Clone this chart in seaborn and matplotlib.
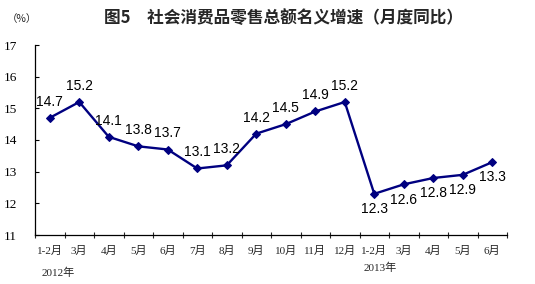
import matplotlib
matplotlib.use("Agg")
import matplotlib.pyplot as plt
import seaborn as sns
import numpy as np
import pandas as pd

months = ["1-2月", "3月", "4月", "5月", "6月", "7月", "8月", "9月", "10月", "11月", "12月",
          "1-2月", "3月", "4月", "5月", "6月"]
growth = [14.7, 15.2, 14.1, 13.8, 13.7, 13.1, 13.2, 14.2, 14.5, 14.9, 15.2,
          12.3, 12.6, 12.8, 12.9, 13.3]
year_labels = ["2012年", "2013年"]
y_ticks = [11, 12, 13, 14, 15, 16, 17]
title = "图5　社会消费品零售总额名义增速（月度同比）"
unit = "（%）"

sns.set_theme(style="ticks")
plt.rcParams["font.family"] = ["Liberation Serif", "Noto Sans CJK SC"]

df = pd.DataFrame({"pos": np.arange(len(growth)), "value": growth})

fig = plt.figure(figsize=(5.35, 2.84), dpi=100)
ax = fig.add_axes([35 / 535, 1 - 235 / 284, (507 - 35) / 535, (235 - 45) / 284])

sns.lineplot(data=df, x="pos", y="value", ax=ax, color="#000080", linewidth=1.7,
             marker="D", markersize=4.5, markeredgecolor="#000080")

ax.set_xlim(-0.5, len(growth) - 0.5)
ax.set_ylim(y_ticks[0], y_ticks[-1])
ax.set_yticks(y_ticks)
ax.set_yticklabels([str(t) for t in y_ticks], fontsize=9.5,
                   family=["Liberation Serif"])
ax.tick_params(axis="y", direction="in", length=3, width=0.8, pad=13, colors="black")

ax.set_xticks(np.arange(len(growth)))
ax.set_xticklabels(months, fontsize=8, family=["Liberation Serif", "Noto Sans CJK SC"])
ax.tick_params(axis="x", which="major", length=0, pad=8)
ax.set_xticks(np.arange(-0.5, len(growth)), minor=True)
ax.tick_params(axis="x", which="minor", direction="inout", length=4, width=0.8)

ax.set_xlabel("")
ax.set_ylabel("")
for s in ["top", "right"]:
    ax.spines[s].set_visible(False)
for s in ["left", "bottom"]:
    ax.spines[s].set_linewidth(0.9)
    ax.spines[s].set_color("black")

for i, v in enumerate(growth):
    if i < 11:
        ax.annotate(f"{v:.1f}", (i, v), xytext=(0, 6.5), textcoords="offset points",
                    ha="center", va="bottom", fontsize=10,
                    family=["Liberation Sans"], color="black")
    else:
        ax.annotate(f"{v:.1f}", (i, v), xytext=(0, -6), textcoords="offset points",
                    ha="center", va="top", fontsize=10,
                    family=["Liberation Sans"], color="black")

fig.text(58 / 535, 1 - 273 / 284, year_labels[0], ha="center", va="center",
         fontsize=8, family=["Liberation Serif", "Noto Sans CJK SC"])
fig.text(380 / 535, 1 - 268 / 284, year_labels[1], ha="center", va="center",
         fontsize=8, family=["Liberation Serif", "Noto Sans CJK SC"])

fig.text(22 / 535, 1 - 19 / 284, unit, ha="center", va="center", fontsize=7.5,
         family=["Noto Sans CJK SC", "DejaVu Sans"])
fig.text(283 / 535, 1 - 18 / 284, title, ha="center", va="center", fontsize=12,
         fontweight="bold", family=["Noto Sans CJK SC", "DejaVu Sans"])

fig.savefig("out.png", dpi=100)
